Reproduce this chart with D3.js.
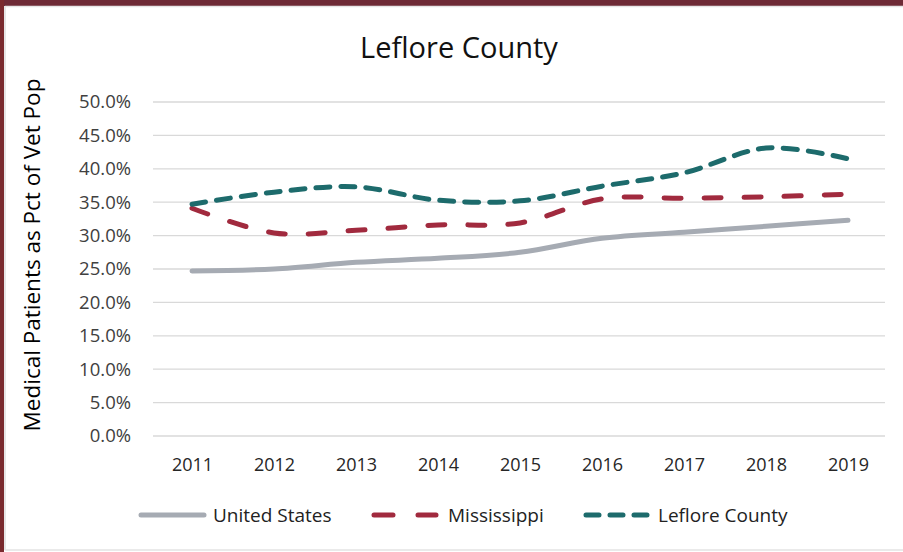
<!DOCTYPE html>
<html>
<head>
<meta charset="utf-8" />
<title>Leflore County</title>
<script src="https://cdn.jsdelivr.net/npm/d3@7"></script>
<style>
	body { margin: 0; background: #fff; }
	text { font-family: "Open Sans", sans-serif; }
</style>
</head>
<body>
<div id="chart"></div>
<script>

// values (percent)
const years = [2011, 2012, 2013, 2014, 2015, 2016, 2017, 2018, 2019];
const usValues = [24.7, 25.0, 26.0, 26.6, 27.5, 29.6, 30.5, 31.4, 32.3];
const msValues = [34.1, 30.4, 30.8, 31.6, 31.9, 35.5, 35.6, 35.8, 36.2];
const leValues = [34.7, 36.5, 37.3, 35.3, 35.2, 37.4, 39.4, 43.1, 41.5];
const yTicks = [0, 5, 10, 15, 20, 25, 30, 35, 40, 45, 50];

const series = [
	{name: "United States", values: usValues, color: "#a6abb3", dash: null},
	{name: "Mississippi", values: msValues, color: "#a12a3e", dash: "17,23"},
	{name: "Leflore County", values: leValues, color: "#1d6b6c", dash: "14,11"}
];

const width = 903, height = 552;

let svg = d3.select("#chart").append("svg")
	.attr("width", width)
	.attr("height", height);

// frame
svg.append("rect").attr("x", 0).attr("y", 0).attr("width", width).attr("height", height).attr("fill", "#fff");
svg.append("rect").attr("x", 0).attr("y", 0).attr("width", width).attr("height", 6).attr("fill", "#6e2a36");
svg.append("rect").attr("x", 0).attr("y", 0).attr("width", 4).attr("height", height).attr("fill", "#7a2a2e");
svg.append("line").attr("x1", 5).attr("x2", 5).attr("y1", 6).attr("y2", 550)
	.attr("stroke", "#e6e6e6").attr("stroke-width", 2);
svg.append("line").attr("x1", 5).attr("x2", width).attr("y1", 6.5).attr("y2", 6.5)
	.attr("stroke", "#e6e6e6").attr("stroke-width", 1.5);
svg.append("line").attr("x1", 5).attr("x2", width).attr("y1", 550).attr("y2", 550)
	.attr("stroke", "#e3e3e3").attr("stroke-width", 1.5);

let x = d3.scalePoint()
	.domain(years)
	.range([192, 848]);

let y = d3.scaleLinear()
	.domain([0, 50])
	.range([436, 102]);

// gridlines
svg.append("g")
	.selectAll("line")
	.data(yTicks)
	.enter().append("line")
	.attr("x1", 153).attr("x2", 885)
	.attr("y1", d => y(d)).attr("y2", d => y(d))
	.attr("stroke", "#d9d9d9")
	.attr("stroke-width", 1.3);

// y axis labels
let yAxis = d3.axisLeft(y).tickValues(yTicks).tickFormat(d => d.toFixed(1) + "%").tickSize(0).tickPadding(0);
let yg = svg.append("g").attr("transform", "translate(131,0)").call(yAxis);
yg.select(".domain").remove();
yg.selectAll("text").attr("font-size", 18.5).attr("fill", "#404040").attr("font-family", "'Open Sans', sans-serif");

// x axis labels
let xAxis = d3.axisBottom(x).tickSize(0).tickPadding(0);
let xg = svg.append("g").attr("transform", "translate(0,458)").call(xAxis);
xg.select(".domain").remove();
xg.selectAll("text").attr("font-size", 18).attr("fill", "#262626").attr("font-family", "'Open Sans', sans-serif");

// title
svg.append("text")
	.attr("x", 459).attr("y", 58)
	.attr("text-anchor", "middle")
	.attr("font-size", 29)
	.attr("fill", "#111")
	.text("Leflore County");

// y title
svg.append("text")
	.attr("transform", "translate(40,255) rotate(-90)")
	.attr("text-anchor", "middle")
	.attr("font-size", 22.5)
	.attr("font-weight", 500)
	.attr("fill", "#000")
	.text("Medical Patients as Pct of Vet Pop");

// lines
let line = d3.line()
	.x((d, i) => x(years[i]))
	.y(d => y(d))
	.curve(d3.curveCardinal.tension(0));

svg.append("g")
	.selectAll("path")
	.data(series)
	.enter().append("path")
	.attr("d", d => line(d.values))
	.attr("fill", "none")
	.attr("stroke", d => d.color)
	.attr("stroke-width", 5)
	.attr("stroke-linecap", "round")
	.attr("stroke-dasharray", d => d.dash);

// legend
const legendX = [141, 374, 586];
const legendLen = [63, 62, 62];
const legendDash = [null, "19,25", "13,11"];
const legendText = [213, 448, 658];
let legend = svg.append("g")
	.selectAll("g")
	.data(series)
	.enter().append("g");

legend.append("line")
	.attr("x1", (d, i) => legendX[i]).attr("x2", (d, i) => legendX[i] + legendLen[i])
	.attr("y1", 515).attr("y2", 515)
	.attr("stroke", d => d.color)
	.attr("stroke-width", 5)
	.attr("stroke-linecap", "round")
	.attr("stroke-dasharray", (d, i) => legendDash[i]);

legend.append("text")
	.attr("x", (d, i) => legendText[i])
	.attr("y", 522)
	.attr("font-size", 19)
	.attr("fill", "#222")
	.text(d => d.name);

</script>
</body>
</html>
